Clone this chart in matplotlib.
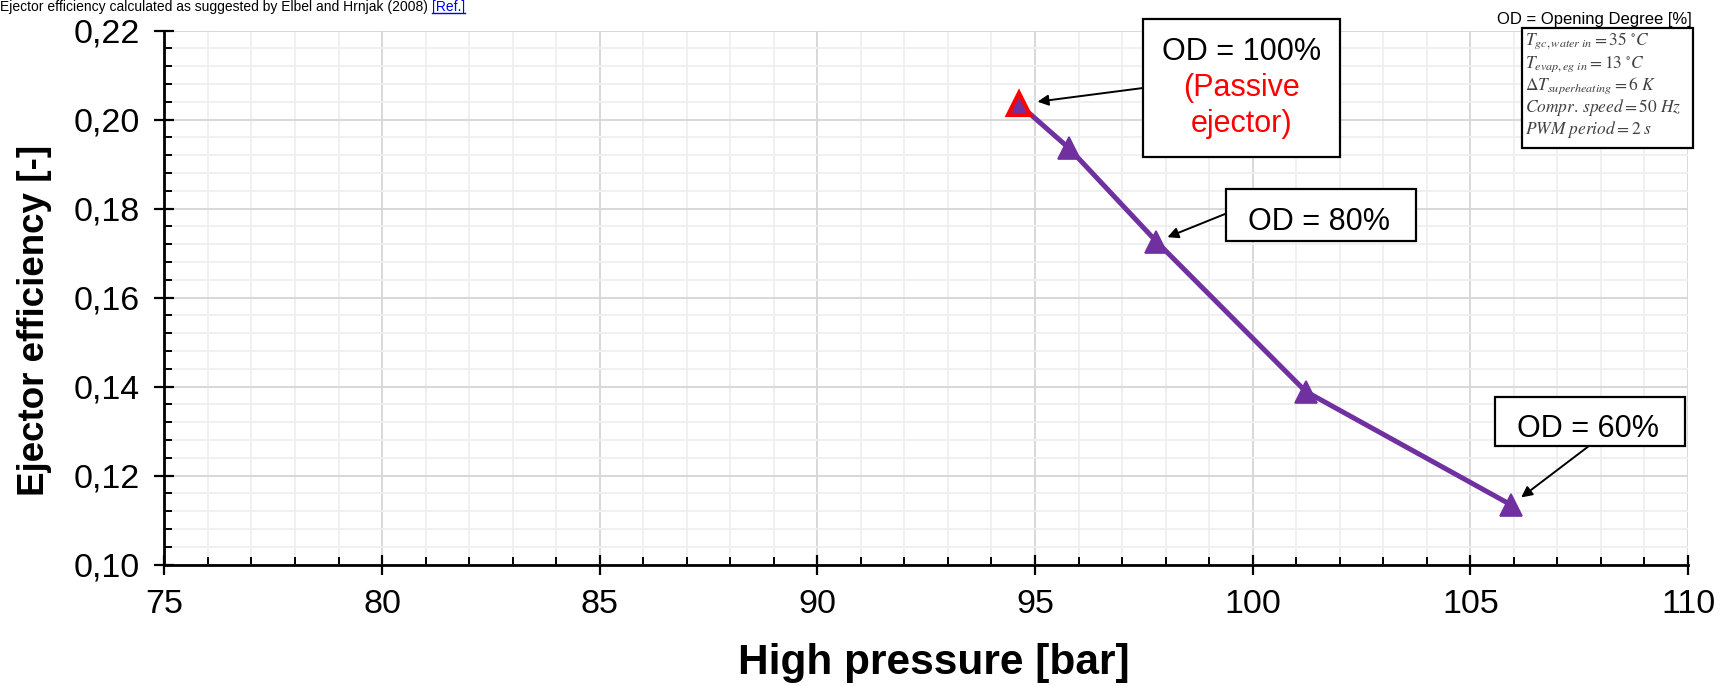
import matplotlib
matplotlib.use("Agg")
import matplotlib.pyplot as plt
from matplotlib.patches import Rectangle
from matplotlib.ticker import MultipleLocator, FuncFormatter

# Measured operating points (ejector opening degree sweep)
pressure_bar = [94.63, 95.78, 97.79, 101.22, 105.94]
ejector_eff = [0.2035, 0.1936, 0.1726, 0.1389, 0.1134]

# Annotated points: index into the series and label lines
od_labels = ["OD = 100%", "OD = 80%", "OD = 60%"]
od_index = [0, 2, 4]
passive_note = ["(Passive", "ejector)"]

conditions = [
    r"$T_{gc,water\ in} = 35\ {}^{\circ}C$",
    r"$T_{evap,eg\ in} = 13\ {}^{\circ}C$",
    r"$\Delta T_{superheating} = 6\ K$",
    r"$Compr.\,speed = 50\ Hz$",
    r"$PWM\ period = 2\ s$",
]

x_ticks = [75, 80, 85, 90, 95, 100, 105, 110]
y_ticks = [0.10, 0.12, 0.14, 0.16, 0.18, 0.20, 0.22]

plt.rcParams["font.family"] = ["Liberation Sans", "DejaVu Sans"]
plt.rcParams["mathtext.fontset"] = "stix"

W, H = 1719, 686
fig = plt.figure(figsize=(W / 100, H / 100), dpi=100)


def fx(x):
    return x / W


def fy(y):
    return 1 - y / H


ax_l, ax_r, ax_t, ax_b = 164.4, 1688.0, 30.7, 564.6
ax = fig.add_axes([fx(ax_l), fy(ax_b), (ax_r - ax_l) / W, (ax_b - ax_t) / H])

purple = "#7030A0"
ax.plot(pressure_bar, ejector_eff, color=purple, lw=3.6, marker="^",
        ms=16.5, mfc=purple, mec=purple, mew=1.2, zorder=5, clip_on=False)
ax.plot(pressure_bar[:1], ejector_eff[:1], ls="none", marker="^", ms=15.5,
        mfc=purple, mec="#ff0000", mew=3.0, zorder=6, clip_on=False)

ax.set_xlim(x_ticks[0], x_ticks[-1])
ax.set_ylim(y_ticks[0], y_ticks[-1])
ax.set_xticks(x_ticks)
ax.set_yticks(y_ticks)
ax.xaxis.set_minor_locator(MultipleLocator(1))
ax.yaxis.set_minor_locator(MultipleLocator(0.004))
ax.yaxis.set_major_formatter(FuncFormatter(lambda v, _: f"{v:.2f}".replace(".", ",")))
ax.xaxis.set_major_formatter(FuncFormatter(lambda v, _: f"{v:.0f}"))

ax.grid(which="major", color="#d6d6d6", lw=1.3, zorder=0)
ax.grid(which="minor", color="#efefef", lw=1.3, zorder=0)
ax.set_axisbelow(True)

for s in ("top", "right"):
    ax.spines[s].set_visible(False)
for s in ("left", "bottom"):
    ax.spines[s].set_linewidth(2.0)
    ax.spines[s].set_color("black")
    ax.spines[s].set_zorder(4)

ax.tick_params(which="major", direction="inout", length=15, width=1.6,
               labelsize=24.5, color="black", pad=10)
ax.tick_params(which="minor", direction="in", length=6, width=1.4, color="black")

ax.set_xlabel("High pressure [bar]", fontsize=30.5, fontweight="bold")
ax.xaxis.set_label_coords((934 - ax_l) / (ax_r - ax_l), -(663 - ax_b) / (ax_b - ax_t))
ax.xaxis.label.set_va("center")
ax.set_ylabel("Ejector efficiency [-]", fontsize=26.5, fontweight="bold")
ax.yaxis.set_label_coords((35 - ax_l) / (ax_r - ax_l), (ax_b - 320.7) / (ax_b - ax_t))
ax.yaxis.label.set_va("center")
ax.yaxis.label.set_ha("center")
ax.yaxis.label.set_rotation_mode("anchor")

# Callout boxes (pixel geometry converted to figure fractions)
boxes = [
    (1143, 18.6, 1340, 157.0),
    (1225.7, 189.3, 1415.7, 240.7),
    (1495, 397, 1685, 445.7),
]
baselines = [60, 230, 437.3]
text_cx = [1241.5, 1318.5, 1587.5]
arrow_from = [(1143, 88), (1225, 214), (1588, 446.7)]
arrow_gap = [13.5, 8.5, 9.0]

for i, (x0, y0, x1, y1) in enumerate(boxes):
    fig.patches.append(Rectangle((fx(x0), fy(y1)), (x1 - x0) / W, (y1 - y0) / H,
                                 transform=fig.transFigure, fc="white",
                                 ec="black", lw=1.6, zorder=7))
    fig.text(fx(text_cx[i]), fy(baselines[i]), od_labels[i], ha="center",
             va="baseline", fontsize=22, color="black", zorder=8)
    k = od_index[i]
    ax.annotate("", xy=(pressure_bar[k], ejector_eff[k]),
                xytext=(fx(arrow_from[i][0]), fy(arrow_from[i][1])),
                textcoords="figure fraction",
                arrowprops=dict(arrowstyle="-|>", color="black", lw=1.4,
                                mutation_scale=16, shrinkA=0,
                                shrinkB=arrow_gap[i]),
                zorder=7, annotation_clip=False)

for j, line in enumerate(passive_note):
    fig.text(fx(1241.5), fy(96 + 36 * j), line, ha="center", va="baseline",
             fontsize=22, color="#ff0000", zorder=8)

# Operating conditions legend box
fig.text(fx(1691.7), fy(24), "OD = Opening Degree [%]", ha="right",
         va="baseline", fontsize=12, color="black")
fig.patches.append(Rectangle((fx(1521.7), fy(147.5)), 171 / W, (147.5 - 28.3) / H,
                             transform=fig.transFigure, fc="white",
                             ec="black", lw=1.6, zorder=7))
for j, line in enumerate(conditions):
    fig.text(fx(1525), fy(45 + 22.3 * j), line, ha="left", va="baseline",
             fontsize=12.5, color="#404040", zorder=8)

# Caption line along the top edge
cap = fig.text(0, fy(11), "Ejector efficiency calculated as suggested by Elbel and Hrnjak (2008) ",
               ha="left", va="baseline", fontsize=10, color="black")
fig.canvas.draw()
bb = cap.get_window_extent()
ref = fig.text(bb.x1 / W, fy(11), "[Ref.]", ha="left", va="baseline",
               fontsize=10, color="#0000ee")
fig.canvas.draw()
rb = ref.get_window_extent()
fig.add_artist(plt.Line2D([rb.x0 / W, rb.x1 / W], [fy(13), fy(13)],
                          color="#0000ee", lw=1.0, transform=fig.transFigure))

fig.savefig("out.png", dpi=100)
